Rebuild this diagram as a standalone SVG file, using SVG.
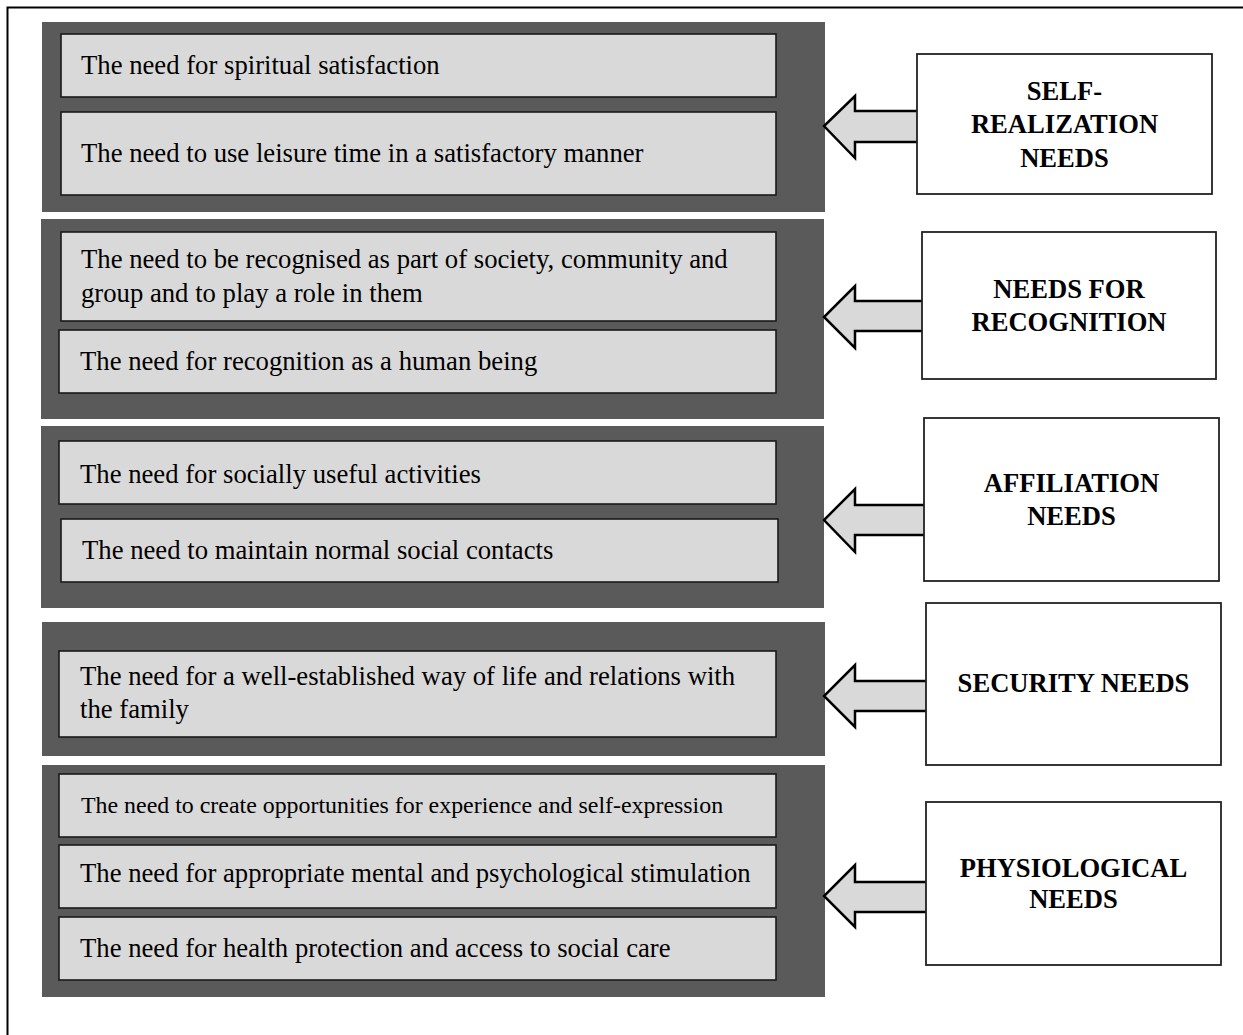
<svg xmlns="http://www.w3.org/2000/svg" width="1243" height="1035" viewBox="0 0 1243 1035">
<style>
.frame{fill:none;stroke:#000;stroke-width:2}
.panel{fill:#5a5a5a}
.item{fill:#d9d9d9;stroke:#1a1a1a;stroke-width:1.6}
.txt{font-family:"Liberation Serif","Times New Roman",serif;font-size:26.7px;fill:#000}
.small{font-size:23.9px}
.lbox{fill:#fff;stroke:#222;stroke-width:1.8}
.lbl{font-family:"Liberation Serif","Times New Roman",serif;font-size:26.6px;font-weight:bold;fill:#000;text-anchor:middle}
.arrow{fill:#d9d9d9;stroke:#000;stroke-width:2.5;stroke-linejoin:miter}
</style>
<rect width="1243" height="1035" fill="#fff"/>
<rect class="frame" x="7.5" y="7.5" width="1260" height="1060"/>

<g id="panel-self-realization">
<rect class="panel" x="42" y="22" width="783" height="190"/>
<rect class="item" x="61" y="34" width="715" height="63"/>
<text class="txt" x="81" y="74">The need for spiritual satisfaction</text>
<rect class="item" x="61" y="112" width="715" height="83"/>
<text class="txt" x="81" y="162">The need to use leisure time in a satisfactory manner</text>
</g>

<g id="panel-recognition">
<rect class="panel" x="41" y="219" width="783" height="200"/>
<rect class="item" x="61" y="232" width="715" height="89"/>
<text class="txt" x="81" y="268">The need to be recognised as part of society, community and</text>
<text class="txt" x="81" y="302">group and to play a role in them</text>
<rect class="item" x="59" y="330" width="717" height="63"/>
<text class="txt" x="80" y="370">The need for recognition as a human being</text>
</g>

<g id="panel-affiliation">
<rect class="panel" x="41" y="426" width="783" height="182"/>
<rect class="item" x="59" y="441" width="717" height="63"/>
<text class="txt" x="80" y="483">The need for socially useful activities</text>
<rect class="item" x="61" y="519" width="717" height="63"/>
<text class="txt" x="82" y="559">The need to maintain normal social contacts</text>
</g>

<g id="panel-security">
<rect class="panel" x="42" y="622" width="783" height="134"/>
<rect class="item" x="59" y="651" width="717" height="86"/>
<text class="txt" x="80" y="685">The need for a well-established way of life and relations with</text>
<text class="txt" x="80" y="718">the family</text>
</g>

<g id="panel-physiological">
<rect class="panel" x="42" y="765" width="783" height="232"/>
<rect class="item" x="59" y="774" width="717" height="63"/>
<text class="txt small" x="81" y="813">The need to create opportunities for experience and self-expression</text>
<rect class="item" x="59" y="845" width="717" height="63"/>
<text class="txt" x="80" y="882">The need for appropriate mental and psychological stimulation</text>
<rect class="item" x="59" y="917" width="717" height="63"/>
<text class="txt" x="80" y="957">The need for health protection and access to social care</text>
</g>

<g id="connectors">
<path class="arrow" d="M917,111 L855,111 L855,96 L824,126 L855,158 L855,142 L917,142"/>
<path class="arrow" d="M922,301 L855,301 L855,286 L824,317 L855,348 L855,331 L922,331"/>
<path class="arrow" d="M924,505 L855,505 L855,489 L824,520 L855,552 L855,535 L924,535"/>
<path class="arrow" d="M926,681 L855,681 L855,665 L824,696 L855,727 L855,711 L926,711"/>
<path class="arrow" d="M926,882 L855,882 L855,865 L824,896 L855,927 L855,912 L926,912"/>
</g>

<g id="label-self-realization">
<rect class="lbox" x="917" y="54" width="295" height="140"/>
<text class="lbl" x="1064.5" y="100">SELF-</text>
<text class="lbl" x="1064.5" y="133">REALIZATION</text>
<text class="lbl" x="1064.5" y="167">NEEDS</text>
</g>

<g id="label-recognition">
<rect class="lbox" x="922" y="232" width="294" height="147"/>
<text class="lbl" x="1069" y="298">NEEDS FOR</text>
<text class="lbl" x="1069" y="331">RECOGNITION</text>
</g>

<g id="label-affiliation">
<rect class="lbox" x="924" y="418" width="295" height="163"/>
<text class="lbl" x="1071.5" y="492">AFFILIATION</text>
<text class="lbl" x="1071.5" y="525">NEEDS</text>
</g>

<g id="label-security">
<rect class="lbox" x="926" y="603" width="295" height="162"/>
<text class="lbl" x="1073.5" y="692">SECURITY NEEDS</text>
</g>

<g id="label-physiological">
<rect class="lbox" x="926" y="802" width="295" height="163"/>
<text class="lbl" x="1073.5" y="877">PHYSIOLOGICAL</text>
<text class="lbl" x="1073.5" y="908">NEEDS</text>
</g>
</svg>
